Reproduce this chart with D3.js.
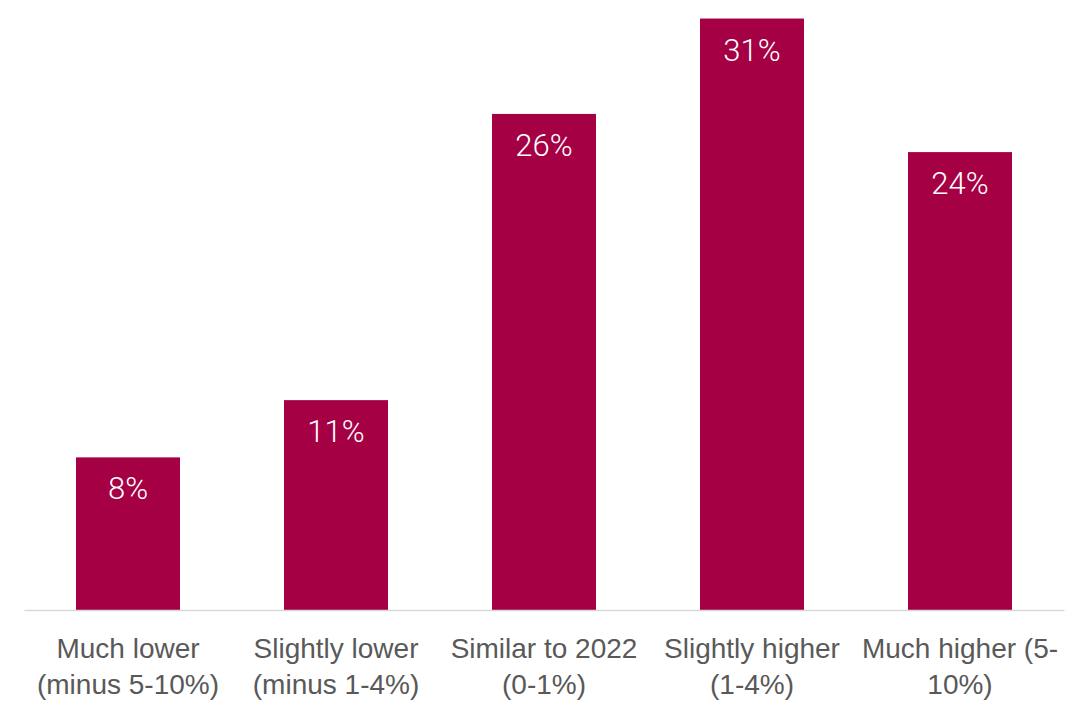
<!DOCTYPE html>
<html>
<head>
<meta charset="utf-8">
<script src="https://cdn.jsdelivr.net/npm/d3@7"></script>
<style>
  html, body { margin: 0; padding: 0; background: #fff; }
  svg { display: block; font-family: Roboto, "Liberation Sans", Arial, sans-serif; font-weight: 300; }
</style>
</head>
<body>
<svg id="chart" width="1087" height="702"></svg>
<script>
// Expected change vs. 2022, share of respondents
const categories = [
  ["Much lower", "(minus 5-10%)"],
  ["Slightly lower", "(minus 1-4%)"],
  ["Similar to 2022", "(0-1%)"],
  ["Slightly higher", "(1-4%)"],
  ["Much higher (5-", "10%)"]
];
const values = [8, 11, 26, 31, 24];
const valueLabels = ["8%", "11%", "26%", "31%", "24%"];

const svg = d3.select("#chart");
const baseline = 610;

const x = d3.scaleBand()
  .domain(d3.range(categories.length))
  .range([24, 1064])
  .paddingInner(0.5)
  .paddingOuter(0.25);

const y = d3.scaleLinear()
  .domain([0, 31.5])
  .range([baseline, 9]);

// bars
svg.append("g").selectAll("rect")
  .data(values)
  .join("rect")
  .attr("x", (d, i) => x(i))
  .attr("y", d => y(d))
  .attr("width", x.bandwidth())
  .attr("height", d => y(0) - y(d))
  .attr("fill", "#a50044");

// value labels inside the bars
svg.append("g").selectAll("text")
  .data(values)
  .join("text")
  .attr("x", (d, i) => x(i) + x.bandwidth() / 2)
  .attr("y", d => y(d) + 42)
  .attr("text-anchor", "middle")
  .attr("fill", "#ffffff")
  .attr("font-size", 31)
  .text((d, i) => valueLabels[i]);

// category axis
const axis = svg.append("g")
  .attr("transform", `translate(0,${baseline})`)
  .call(d3.axisBottom(x).tickSize(0).tickFormat(() => ""));
axis.select(".domain").attr("stroke", "#d9d9d9").attr("stroke-width", 1.5);

axis.selectAll(".tick").each(function(i) {
  const t = d3.select(this).append("text")
    .attr("text-anchor", "middle")
    .attr("fill", "#595959")
    .attr("font-size", 28);
  categories[i].forEach((line, k) => {
    t.append("tspan")
      .attr("x", 0)
      .attr("y", 48 + k * 36)
      .text(line);
  });
});
</script>
</body>
</html>
